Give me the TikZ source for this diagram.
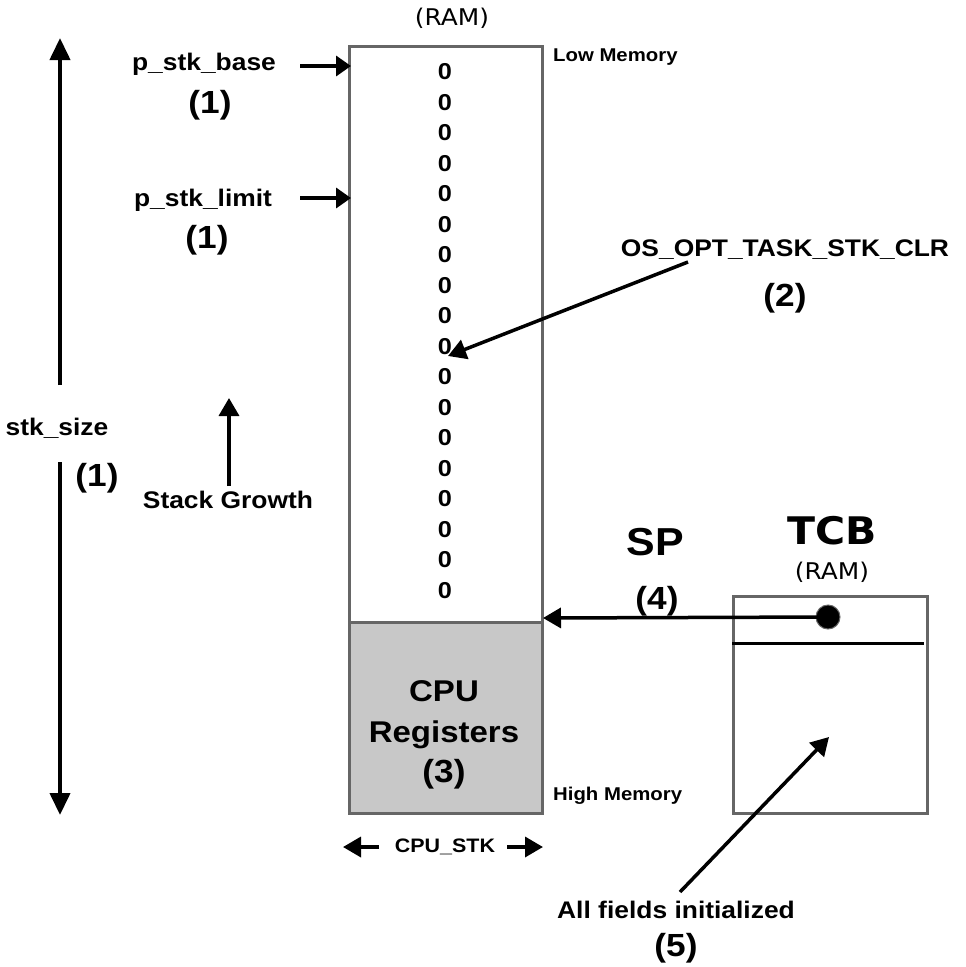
\documentclass[tikz,border=0pt]{standalone}
\usepackage{fontspec}
\setmainfont{Liberation Sans}[FakeStretch=1.1]
\newfontfamily\dejavu{DejaVu Sans}[FakeStretch=1.08]
\usetikzlibrary{arrows.meta}
\definecolor{boxgray}{HTML}{666666}
\definecolor{regfill}{HTML}{C8C8C8}
\begin{document}
\begin{tikzpicture}[x=1pt,y=-1pt,
  lbl/.style={font=\fontsize{24}{26}\selectfont\bfseries, inner sep=0pt},
  small/.style={font=\fontsize{18.5}{20}\selectfont\bfseries, inner sep=0pt},
  num/.style={font=\fontsize{32}{34}\selectfont\bfseries, inner sep=0pt},
  zero/.style={font=\fontsize{23}{25}\selectfont\bfseries, inner sep=0pt},
  ram/.style={font=\dejavu\fontsize{23}{25}\selectfont, inner sep=0pt},
  regtxt/.style={font=\fontsize{30}{32}\selectfont\bfseries, inner sep=0pt},
  arr/.style={line width=3.5pt, -{Triangle[length=18pt,width=20pt]}},
  box/.style={draw=boxgray, line width=3pt, inner sep=0pt}]
\useasboundingbox (0,0) rectangle (966,967);

% stack
\node[box, fill=white, minimum width=193pt, minimum height=576pt, anchor=north west] (stack) at (348,45) {};
\node[box, fill=regfill, minimum width=193pt, minimum height=191pt, anchor=north west] (regs) at (348,621) {};
\node[ram] (ram1) at (452,18) {(RAM)};
\node[small, anchor=west] (low) at (553,57) {Low Memory};
\node[small, anchor=west] (high) at (553,796) {High Memory};
\foreach \i in {0,...,17} \node[zero] (z\i) at (445,{72+30.5*\i}) {0};
\node[regtxt] (cpu) at (444,691) {CPU};
\node[regtxt] (regname) at (444,735) {Registers};
\node[num] (n3) at (444,774) {(3)};

% CPU_STK
\node[font=\fontsize{19.5}{21}\selectfont\bfseries, inner sep=0pt] (cpustk) at (445,847) {CPU\_STK};
\coordinate (cl0) at (379,847); \coordinate (cl1) at (343,847);
\coordinate (cr0) at (507,847); \coordinate (cr1) at (543,847);
\draw[line width=3.5pt, -{Triangle[length=18pt,width=20pt]}] (cl0) -- (cl1);
\draw[line width=3.5pt, -{Triangle[length=18pt,width=20pt]}] (cr0) -- (cr1);

% pointers
\node[lbl] (pbase) at (204,64) {p\_stk\_base};
\node[num] (n1a) at (210,105) {(1)};
\node[lbl] (plim) at (203,200) {p\_stk\_limit};
\node[num] (n1b) at (207,240) {(1)};
\coordinate (pb0) at (300,66); \coordinate (pb1) at (351,66);
\coordinate (pl0) at (300,198); \coordinate (pl1) at (351,198);
\draw[line width=3.5pt, -{Triangle[length=15pt,width=20pt]}] (pb0) -- (pb1);
\draw[line width=3.5pt, -{Triangle[length=15pt,width=20pt]}] (pl0) -- (pl1);

% stk_size
\node[lbl] (size) at (57,428) {stk\_size};
\node[num] (n1c) at (97,478) {(1)};
\coordinate (su0) at (60,385); \coordinate (su1) at (60,38);
\coordinate (sd0) at (60,462); \coordinate (sd1) at (60,815);
\draw[line width=4pt, -{Triangle[length=22pt,width=20pt]}] (su0) -- (su1);
\draw[line width=4pt, -{Triangle[length=22pt,width=20pt]}] (sd0) -- (sd1);

% stack growth
\node[lbl] (growth) at (228,500) {Stack Growth};
\coordinate (g0) at (229,486); \coordinate (g1) at (229,398);
\draw[arr] (g0) -- (g1);

% OS_OPT
\node[lbl] (opt) at (785,250) {OS\_OPT\_TASK\_STK\_CLR};
\node[num] (n2) at (785,298) {(2)};
\coordinate (o0) at (688,262); \coordinate (o1) at (448,356);
\draw[arr] (o0) -- (o1);

% TCB
\node[font=\dejavu\fontsize{38}{40}\selectfont\bfseries, inner sep=0pt] (tcb) at (832,531) {TCB};
\node[ram] (ram2) at (832,572) {(RAM)};
\node[box, fill=white, minimum width=194pt, minimum height=217pt, anchor=north west] (tcbbox) at (732,595) {};
\coordinate (tl0) at (732,643); \coordinate (tl1) at (924,643);
\draw[line width=3pt] (tl0) -- (tl1);
\node[circle, fill=black, draw=boxgray, line width=1pt, minimum size=24pt, inner sep=0pt] (dot) at (828,617) {};
\coordinate (sp1) at (543,618);
\draw[arr] (dot.center) -- (sp1);
\node[font=\fontsize{39}{41}\selectfont\bfseries, inner sep=0pt] (sp) at (655,542) {SP};
\node[num] (n4) at (657,601) {(4)};

% all fields
\node[lbl] (all) at (676,910) {All fields initialized};
\node[num] (n5) at (676,948) {(5)};
\coordinate (a0) at (680,892); \coordinate (a1) at (829,737);
\draw[arr] (a0) -- (a1);
\end{tikzpicture}
\end{document}
